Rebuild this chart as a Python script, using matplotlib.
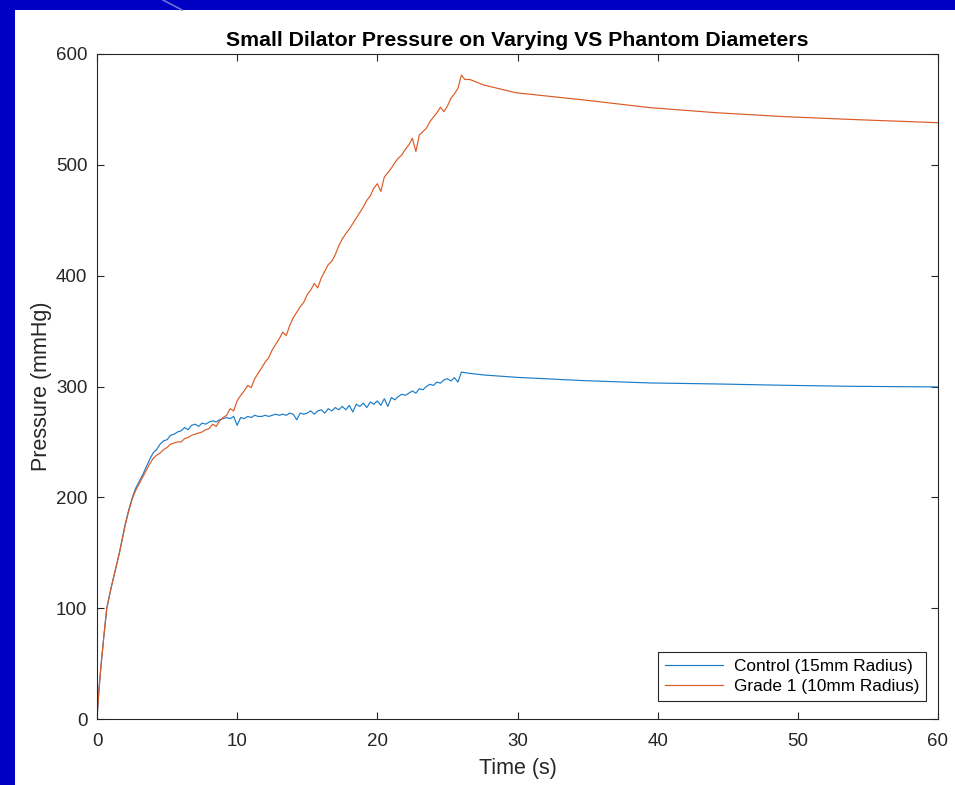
import matplotlib.pyplot as plt
from matplotlib.patches import Rectangle
from matplotlib.lines import Line2D

# Control (15mm radius) - time (s) and pressure (mmHg)
t_control = [0, 0.15, 0.3, 0.5, 0.7, 1.0, 1.3, 1.6, 2.0, 2.25, 2.5, 2.75,
             3.0, 3.25, 3.5, 3.75,
             4.0, 4.25, 4.5, 4.75, 5.0, 5.25, 5.5, 5.75, 6.0, 6.25, 6.5, 6.75,
             7.0, 7.25, 7.5, 7.75, 8.0, 8.25, 8.5, 8.75, 9.0, 9.25, 9.5, 9.75,
             10.0, 10.25, 10.5, 10.75, 11.0, 11.25, 11.5, 11.75, 12.0, 12.25,
             12.5, 12.75, 13.0, 13.25, 13.5, 13.75, 14.0, 14.25, 14.5, 14.75,
             15.0, 15.25, 15.5, 15.75, 16.0, 16.25, 16.5, 16.75, 17.0, 17.25,
             17.5, 17.75, 18.0, 18.25, 18.5, 18.75, 19.0, 19.25, 19.5, 19.75,
             20.0, 20.25, 20.5, 20.75, 21.0, 21.25, 21.5, 21.75, 22.0, 22.25,
             22.5, 22.75, 23.0, 23.25, 23.5, 23.75, 24.0, 24.25, 24.5, 24.75,
             25.0, 25.25, 25.5, 25.75, 26.0, 26.5, 27.6, 29.9, 34.7, 39.45,
             44.2, 49.0, 53.7, 60.0]
p_control = [0, 28, 50, 76, 100, 118, 134, 150, 175, 188, 199, 208,
             214, 220, 227, 234,
             240, 243, 248, 251, 252, 256, 257, 259, 260, 263, 261, 265,
             266, 264, 267, 266, 268, 269, 268, 270, 271, 272, 271, 273,
             265, 272, 271, 273, 272, 274, 273, 273, 274, 273,
             274, 275, 274, 275, 274, 276, 275, 270, 276, 275,
             276, 278, 275, 278, 279, 276, 280, 278, 281, 279,
             282, 279, 283, 277, 284, 282, 285, 281, 286, 284,
             287, 283, 289, 282, 290, 288, 291, 293, 292, 294,
             296, 294, 298, 297, 300, 302, 301, 304, 303, 306,
             307, 305, 308, 304, 313, 312, 310.4, 308.3, 305.3, 303.2,
             302.3, 301.1, 300.2, 299.6]

# Grade 1 (10mm radius)
t_grade1 = [0, 0.15, 0.3, 0.5, 0.7, 1.0, 1.3, 1.6, 2.0, 2.25, 2.5, 2.75,
            3.0, 3.25, 3.5, 3.75,
            4.0, 4.25, 4.5, 4.75, 5.0, 5.25, 5.5, 5.75, 6.0, 6.25, 6.5, 6.75,
            7.0, 7.25, 7.5, 7.75, 8.0, 8.25, 8.5, 8.75, 9.0, 9.25, 9.5, 9.75,
            10.0, 10.25, 10.5, 10.75, 11.0, 11.25, 11.5, 11.75, 12.0, 12.25,
            12.5, 12.75, 13.0, 13.25, 13.5, 13.75, 14.0, 14.25, 14.5, 14.75,
            15.0, 15.25, 15.5, 15.75, 16.0, 16.25, 16.5, 16.75, 17.0, 17.25,
            17.5, 17.75, 18.0, 18.25, 18.5, 18.75, 19.0, 19.25, 19.5, 19.75,
            20.0, 20.25, 20.5, 20.75, 21.0, 21.25, 21.5, 21.75, 22.0, 22.25,
            22.5, 22.75, 23.0, 23.25, 23.5, 23.75, 24.0, 24.25, 24.5, 24.75,
            25.0, 25.25, 25.5, 25.75, 26.0, 26.25, 26.6, 27.6, 29.9, 34.7,
            39.45, 44.2, 49.0, 53.7, 60.0]
p_grade1 = [0, 28, 50, 76, 100, 118, 134, 150, 174, 187, 198, 206,
            212, 218, 224, 230,
            235, 238, 240, 243, 245, 248, 249, 250, 250, 253, 254, 256,
            257, 258, 259, 261, 262, 266, 264, 269, 272, 274, 280, 278,
            287, 292, 296, 301, 299, 307, 312, 317, 322, 326,
            333, 338, 343, 349, 346, 355, 362, 367, 372, 376,
            383, 387, 393, 389, 398, 404, 410, 413, 419, 427,
            433, 438, 442, 447, 452, 457, 462, 468, 472, 479,
            483, 476, 489, 493, 497, 502, 506, 509, 514, 518,
            524, 512, 527, 530, 533, 539, 543, 547, 552, 548,
            553, 560, 564, 569, 581, 577, 577, 572, 565, 558.6,
            551.6, 547, 543.5, 541, 538]

series_labels = ['Control (15mm Radius)', 'Grade 1 (10mm Radius)']
x_ticks = [0, 10, 20, 30, 40, 50, 60]
y_ticks = [0, 100, 200, 300, 400, 500, 600]

plt.rcParams['font.family'] = ['Liberation Sans', 'DejaVu Sans']

fig = plt.figure(figsize=(9.55, 7.85), dpi=100, facecolor='white')
# blue slide background strips (left and top)
slide_blue = '#0000c4'
fig.add_artist(Rectangle((0, 0), 15 / 955, 1, transform=fig.transFigure,
                         facecolor=slide_blue, edgecolor='none'))
fig.add_artist(Rectangle((0, 1 - 10 / 785), 1, 10 / 785, transform=fig.transFigure,
                         facecolor=slide_blue, edgecolor='none'))
fig.add_artist(Line2D([163 / 955, 182 / 955], [1, 1 - 10 / 785], transform=fig.transFigure,
                      color='#7070d8', lw=1.2))

ax = fig.add_axes([97 / 955, 1 - 719 / 785, 841 / 955, 665 / 785])
ax.plot(t_control, p_control, color='#1a7cc8', lw=0.85, label=series_labels[0])
ax.plot(t_grade1, p_grade1, color='#dc5a24', lw=0.85, label=series_labels[1])

ax.set_xlim(0, 60)
ax.set_ylim(0, 600)
ax.set_xticks(x_ticks)
ax.set_yticks(y_ticks)
ax.tick_params(direction='in', top=True, right=True, length=5, width=0.8,
               labelsize=13.5, colors='#262626')
ax.tick_params(axis='x', pad=10)
ax.tick_params(axis='y', pad=7)
for s in ax.spines.values():
    s.set_color('#262626')
    s.set_linewidth(0.8)

ax.set_title('Small Dilator Pressure on Varying VS Phantom Diameters',
             fontsize=15.3, fontweight='bold', pad=6)
ax.set_xlabel('Time (s)', fontsize=15.5, color='#262626', labelpad=6)
ax.set_ylabel('Pressure (mmHg)', fontsize=15.5, color='#262626', labelpad=3)

leg = ax.legend(loc='lower right', bbox_to_anchor=(0.9857, 0.027), borderaxespad=0,
                fontsize=12.4, fancybox=False, edgecolor='#262626', framealpha=1,
                handlelength=3.4, handletextpad=0.6, borderpad=0.4, labelspacing=0.3)
leg.get_frame().set_linewidth(0.8)

fig.savefig('out.png', dpi=100)
